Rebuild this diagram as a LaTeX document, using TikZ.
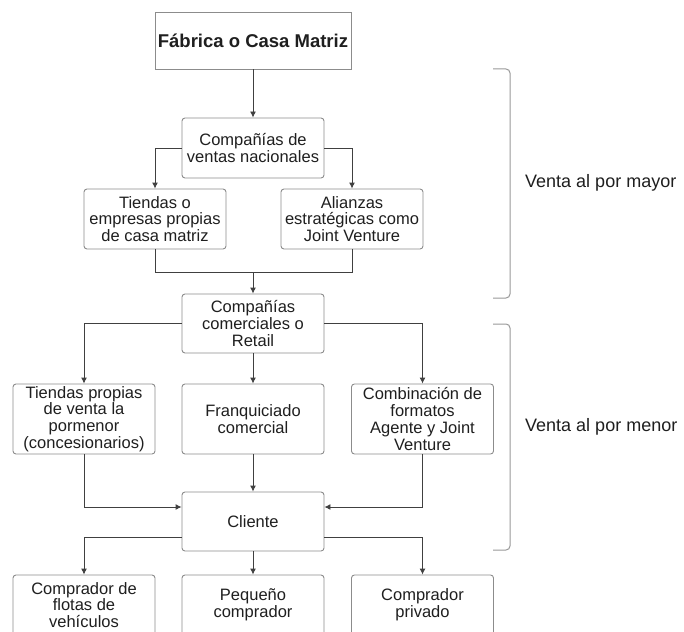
\documentclass[tikz,border=0pt]{standalone}
\usepackage{fontspec}
\setmainfont{Liberation Sans}
\usepackage{tikz}
\usetikzlibrary{arrows.meta}
\usepackage{xcolor}
\colorlet{boxcol}{black!45}
\colorlet{linecol}{black!75}
\colorlet{bracecol}{black!40}
\colorlet{txtcol}{black!88}
\tikzstyle{box}=[draw=boxcol,line width=0.9,rounded corners=3,minimum width=142,minimum height=60,
                 inner sep=0,align=center,text=txtcol,font=\fontsize{16.5}{16.7}\selectfont]
\tikzstyle{topbox}=[box,rounded corners=0,minimum width=196,minimum height=57,font=\fontsize{18.5}{20}\selectfont\bfseries]
\tikzstyle{tallbox}=[box,minimum height=70]
\tikzstyle{link}=[linecol,line width=0.9,-{Latex[length=6,width=6]}]
\tikzstyle{merge}=[linecol,line width=0.9]
\tikzstyle{bracket}=[bracecol,line width=1,rounded corners=4]
\tikzstyle{sidetext}=[anchor=west,inner sep=0,text=txtcol,font=\fontsize{18}{20}\selectfont]
\tikzset{>=latex}

\begin{document}
\begin{tikzpicture}[x=1pt,y=-1pt]
  \def\xl{84}    % left column
  \def\xm{253}   % middle column
  \def\xr{422.5} % right column
  \def\xb{493}   % bracket start
  \def\xB{510}   % bracket back
  \fill[white] (0,0) rectangle (684,631);
  \useasboundingbox (0,0) rectangle (684,631);

  % WHOLESALE
  \node[topbox] (fab) at (\xm,40.5) {Fábrica o Casa Matriz};
  \node[box] (nac) at (\xm,148) {Compañías de\\ventas nacionales};
  \node[box] (prop) at (155,219) {Tiendas o\\empresas propias\\de casa matriz};
  \node[box] (ali) at (352,219) {Alianzas\\estratégicas como\\Joint Venture};
  \draw[link] (fab) -- (nac);
  \draw[link] (nac.west) -| (prop.north);
  \draw[link] (nac.east) -| (ali.north);

  % RETAIL
  \node[box,minimum height=59] (ret) at (\xm,323.5) {Compañías\\comerciales o\\Retail};
  \coordinate (j1) at ([yshift=21pt]ret.north);
  \draw[merge] (prop.south) |- (j1) -| (ali.south);
  \draw[link] (j1) -- (ret.north);
  \node[tallbox] (tpv) at (\xl,419) {Tiendas propias\\de venta la\\pormenor\\(concesionarios)};
  \node[tallbox] (fran) at (\xm,419) {Franquiciado\\comercial};
  \node[tallbox] (comb) at (\xr,419) {Combinación de\\formatos\\Agente y Joint\\Venture};
  \draw[link] (ret.west) -| (tpv.north);
  \draw[link] (ret) -- (fran);
  \draw[link] (ret.east) -| (comb.north);

  % CUSTOMER
  \node[box,minimum height=59] (cli) at (\xm,521.5) {Cliente};
  \draw[link] (tpv.south) |- ([yshift=14.5pt]cli.west);
  \draw[link] (fran) -- (cli);
  \draw[link] (comb.south) |- ([yshift=14.5pt]cli.east);
  \node[box] (flot) at (\xl,605) {Comprador de\\flotas de\\vehículos};
  \node[box] (peq) at (\xm,605) {Pequeño\\comprador};
  \node[box] (priv) at (\xr,605) {Comprador\\privado};
  \draw[link] ([yshift=-15.5pt]cli.west) -| (flot.north);
  \draw[link] (cli) -- (peq);
  \draw[link] ([yshift=-15.5pt]cli.east) -| (priv.north);

  % BRACKETS
  \draw[bracket] (\xb,69) -- (\xB,69) -- (\xB,298) -- (\xb,298);
  \node[sidetext] (may) at (525,183) {Venta al por mayor};
  \draw[bracket] (\xb,324) -- (\xB,324) -- (\xB,550) -- (\xb,550);
  \node[sidetext] (men) at (525,427) {Venta al por menor};
\end{tikzpicture}
\end{document}
